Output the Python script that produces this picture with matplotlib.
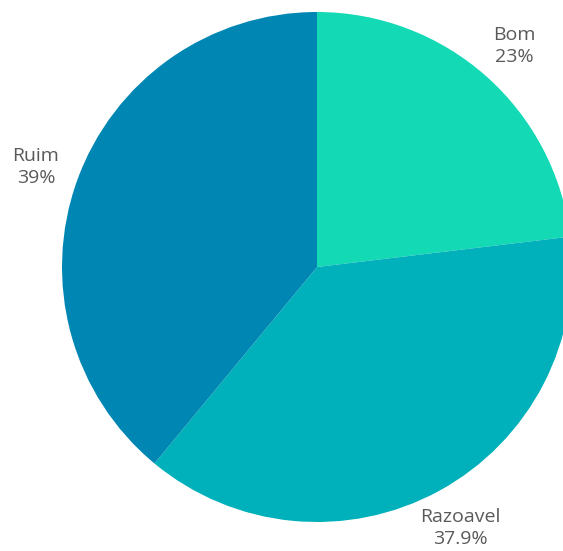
import matplotlib.pyplot as plt

# Dados do gráfico
categorias = ["Bom", "Razoavel", "Ruim"]
valores = [23.1, 37.9, 39.0]
rotulos = ["23%", "37.9%", "39%"]
cores = ["#14d9b5", "#00b0ba", "#0086b3"]

plt.rcParams["font.family"] = ["Open Sans", "DejaVu Sans"]

fig = plt.figure(figsize=(5.63, 5.51), dpi=100)
ax = fig.add_axes([0, 0, 1, 1])

# coordenadas em pixels, origem embaixo à esquerda
ax.pie(valores, colors=cores, startangle=90, counterclock=False,
       center=(317, 284), radius=255, frame=True,
       wedgeprops=dict(linewidth=0))
ax.set_xlim(0, 563)
ax.set_ylim(0, 551)
ax.axis("off")

# Posições dos rótulos
posicoes = [(514, 505), (460, 23), (36, 384)]
for cat, rot, (x, y) in zip(categorias, rotulos, posicoes):
    ax.text(x, y, f"{cat}\n{rot}", ha="center", va="center", fontsize=14,
            color="#5a5a5a", linespacing=1.25)

fig.savefig("out.png", dpi=100)
